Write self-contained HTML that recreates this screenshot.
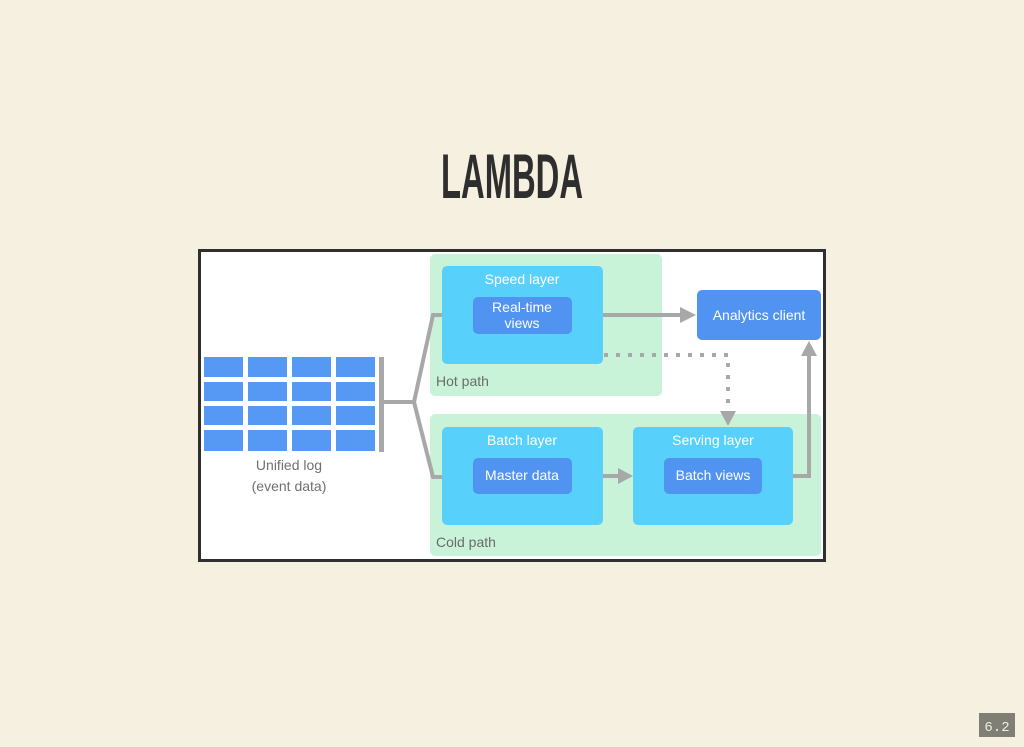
<!DOCTYPE html>
<html><head><meta charset="utf-8"><style>
html,body{margin:0;padding:0;background:#f5f0df;}
svg{display:block}
</style></head><body>
<svg width="1024" height="747" viewBox="0 0 1024 747" xmlns="http://www.w3.org/2000/svg" font-family="Liberation Sans, DejaVu Sans, sans-serif">
<rect width="1024" height="747" fill="#f5f0df"/>
<text x="441" y="198" font-size="63" font-weight="bold" fill="#2e2e2e" textLength="142" lengthAdjust="spacingAndGlyphs">LAMBDA</text>
<rect x="199.5" y="250.5" width="625" height="310" fill="#fff" stroke="#2f2f2f" stroke-width="3"/>
<!-- green paths -->
<rect x="430" y="254" width="232" height="142" rx="5" fill="#c9f3d9"/>
<rect x="430" y="414" width="391" height="142" rx="5" fill="#c9f3d9"/>
<text x="436" y="386" font-size="14" fill="#6b6b6b">Hot path</text>
<text x="436" y="547" font-size="14" fill="#6b6b6b">Cold path</text>
<!-- log grid -->
<g fill="#5599f5">
<rect x="204" y="357" width="39" height="20"/><rect x="248" y="357" width="39" height="20"/><rect x="292" y="357" width="39" height="20"/><rect x="336" y="357" width="39" height="20"/>
<rect x="204" y="382" width="39" height="19"/><rect x="248" y="382" width="39" height="19"/><rect x="292" y="382" width="39" height="19"/><rect x="336" y="382" width="39" height="19"/>
<rect x="204" y="406" width="39" height="19"/><rect x="248" y="406" width="39" height="19"/><rect x="292" y="406" width="39" height="19"/><rect x="336" y="406" width="39" height="19"/>
<rect x="204" y="430" width="39" height="21"/><rect x="248" y="430" width="39" height="21"/><rect x="292" y="430" width="39" height="21"/><rect x="336" y="430" width="39" height="21"/>
</g>
<rect x="379" y="357" width="5" height="95" fill="#a8a8a8"/>
<text x="289" y="470" font-size="14" fill="#707070" text-anchor="middle">Unified log</text>
<text x="289" y="491" font-size="14" fill="#707070" text-anchor="middle">(event data)</text>
<g stroke="#a8a8a8" stroke-width="4" fill="none">
<polyline points="384,402 414,402 433,315 442,315"/>
<polyline points="414,402 433,477 442,477"/>
<line x1="603" y1="315" x2="682" y2="315"/>
<line x1="603" y1="476" x2="620" y2="476"/>
<polyline points="793,476 809,476 809,354"/>
<polyline points="604,355 728,355 728,412" stroke-dasharray="4,8" stroke-width="4"/>
</g>
<g fill="#a8a8a8">
<polygon points="696,315 680,307 680,323"/>
<polygon points="633,476 618,468 618,484"/>
<polygon points="809,341 801,356 817,356"/>
<polygon points="728,426 720,411 736,411"/>
</g>
<!-- boxes -->
<g fill="#57d1fb">
<rect x="442" y="266" width="161" height="98" rx="5"/>
<rect x="442" y="427" width="161" height="98" rx="5"/>
<rect x="633" y="427" width="160" height="98" rx="5"/>
</g>
<g fill="#5093f0">
<rect x="473" y="297" width="99" height="37" rx="5"/>
<rect x="473" y="458" width="99" height="36" rx="5"/>
<rect x="664" y="458" width="98" height="36" rx="5"/>
<rect x="697" y="290" width="124" height="50" rx="5"/>
</g>
<g fill="#fff" font-size="14" text-anchor="middle">
<text x="522" y="284">Speed layer</text>
<text x="522" y="312">Real-time</text>
<text x="522" y="328">views</text>
<text x="522" y="445">Batch layer</text>
<text x="522" y="480">Master data</text>
<text x="713" y="445">Serving layer</text>
<text x="713" y="480">Batch views</text>
<text x="759" y="320">Analytics client</text>
</g>
<rect x="979" y="713" width="36" height="24" fill="#7f7f75"/>
<text x="997" y="731" font-size="14" fill="#eeeee6" text-anchor="middle" font-family="Liberation Mono, monospace">6.2</text>
</svg>
</body></html>
